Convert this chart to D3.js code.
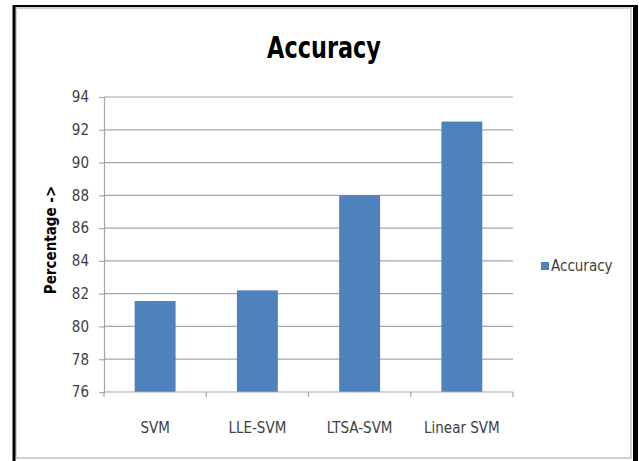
<!DOCTYPE html>
<html>
<head>
<meta charset="utf-8">
<script src="https://cdn.jsdelivr.net/npm/d3@7"></script>
<style>
  html, body { margin: 0; padding: 0; background: #fff; }
  svg { display: block; }
  text { font-family: "DejaVu Sans Condensed", "DejaVu Sans", sans-serif; font-stretch: condensed; }
</style>
</head>
<body>
<svg id="chart" width="639" height="461"></svg>
<script>
const categories = ["SVM", "LLE-SVM", "LTSA-SVM", "Linear SVM"];
const accuracy = [81.55, 82.2, 88.0, 92.5];
const yTicks = [76, 78, 80, 82, 84, 86, 88, 90, 92, 94];
const seriesName = "Accuracy";
const chartTitle = "Accuracy";
const yLabel = "Percentage ->";

const svg = d3.select("#chart");
const W = 639, H = 461;

// Frame: soft gray inner edge with a dark outer border
svg.append("rect").attr("x", 0).attr("y", 0).attr("width", W).attr("height", H).attr("fill", "#fff");
svg.append("rect").attr("x", 16).attr("y", 8).attr("width", 615).attr("height", 450)
  .attr("fill", "none").attr("stroke", "#d0d0d0").attr("stroke-width", 2);
svg.append("line").attr("x1", 14).attr("x2", 14).attr("y1", 5).attr("y2", 461)
  .attr("stroke", "#000").attr("stroke-width", 3);
svg.append("line").attr("x1", 13).attr("x2", 636).attr("y1", 6).attr("y2", 6)
  .attr("stroke", "#000").attr("stroke-width", 2);
svg.append("line").attr("x1", 635.5).attr("x2", 635.5).attr("y1", 5).attr("y2", 461)
  .attr("stroke", "#000").attr("stroke-width", 5);

const plot = { left: 104, right: 513, top: 97, bottom: 392 };

const x = d3.scaleBand().domain(categories).range([plot.left, plot.right]).padding(0);
const y = d3.scaleLinear().domain([76, 94]).range([plot.bottom, plot.top]);

// Horizontal gridlines
svg.append("g").selectAll("line").data(yTicks.filter(t => t !== 76)).join("line")
  .attr("x1", plot.left).attr("x2", plot.right)
  .attr("y1", d => y(d)).attr("y2", d => y(d))
  .attr("stroke", "#a6a6a6").attr("stroke-width", 1.2);

// Y axis
const yAxis = svg.append("g").attr("transform", `translate(${plot.left},0)`)
  .call(d3.axisLeft(y).tickValues(yTicks).tickSize(5).tickPadding(10).tickFormat(d3.format("d")));
yAxis.select(".domain").attr("stroke", "#a6a6a6").attr("stroke-width", 1.2);
yAxis.selectAll(".tick line").attr("stroke", "#a6a6a6").attr("stroke-width", 1.2);
yAxis.selectAll(".tick text").attr("fill", "#404040").style("font-size", "15px")
  .style("font-family", "'DejaVu Sans Condensed', 'DejaVu Sans', sans-serif");

// Bars
const barW = x.bandwidth() * 0.4;
svg.append("g").selectAll("rect").data(categories).join("rect")
  .attr("x", d => x(d) + (x.bandwidth() - barW) / 2)
  .attr("width", barW)
  .attr("y", (d, i) => y(accuracy[i]))
  .attr("height", (d, i) => y(76) - y(accuracy[i]))
  .attr("fill", "#4f81bd");

// X axis with ticks at category boundaries
const xAxisG = svg.append("g").attr("transform", `translate(0,${plot.bottom})`);
xAxisG.append("line").attr("x1", plot.left).attr("x2", plot.right)
  .attr("stroke", "#a6a6a6").attr("stroke-width", 1.2);
const bounds = categories.map(c => x(c)).concat([plot.right]);
xAxisG.selectAll("line.tk").data(bounds).join("line").attr("class", "tk")
  .attr("x1", d => d).attr("x2", d => d).attr("y1", 0).attr("y2", 5)
  .attr("stroke", "#a6a6a6").attr("stroke-width", 1.2);
xAxisG.selectAll("text").data(categories).join("text")
  .attr("x", d => x(d) + x.bandwidth() / 2).attr("y", 41)
  .attr("text-anchor", "middle").attr("fill", "#404040")
  .style("font-size", "15px").text(d => d);

// Title (horizontally compressed bold face)
svg.append("text").attr("transform", "translate(324,58) scale(0.83,1)")
  .attr("text-anchor", "middle")
  .attr("fill", "#000").style("font-size", "30px").style("font-weight", "bold").text(chartTitle);

// Y-axis label
svg.append("text").attr("transform", "translate(56,240) rotate(-90)")
  .attr("text-anchor", "middle").attr("fill", "#000")
  .style("font-size", "15px").style("font-weight", "bold").text(yLabel);

// Legend
const legend = svg.append("g").attr("transform", "translate(541,262)");
legend.append("rect").attr("x", 0).attr("y", 0).attr("width", 8).attr("height", 8).attr("fill", "#4f81bd");
legend.append("text").attr("x", 10).attr("y", 9).attr("fill", "#404040")
  .style("font-size", "15px").text(seriesName);
</script>
</body>
</html>
